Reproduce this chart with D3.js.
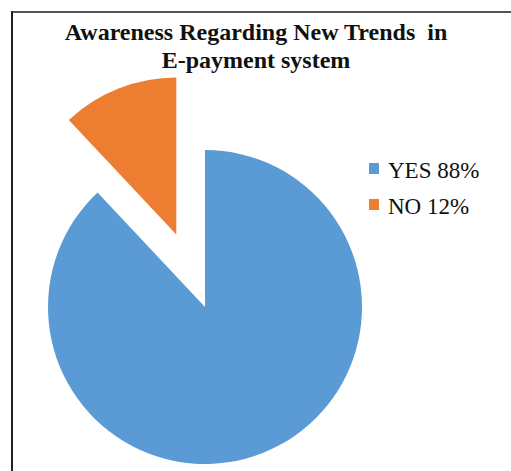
<!DOCTYPE html>
<html>
<head>
<meta charset="utf-8">
<script src="https://cdn.jsdelivr.net/npm/d3@7"></script>
<style>
  html, body { margin: 0; padding: 0; background: #fff; }
  svg { display: block; }
  .serif { font-family: "Liberation Serif", "Times New Roman", serif; }
</style>
</head>
<body>
<svg id="chart" width="511" height="471"></svg>
<script>
// Survey answers and their shares (percent)
const categories = ["YES", "NO"];
const values = [88, 12];
const legendLabels = ["YES 88%", "NO 12%"];
const colors = ["#5B9BD5", "#ED7D31"];
const titleLines = ["Awareness Regarding New Trends  in", "E-payment system"];

const svg = d3.select("#chart");
const W = 511, H = 471;

// Frame lines (top and left edges of the chart box)
svg.append("line").attr("x1", 12).attr("y1", 12).attr("x2", W).attr("y2", 12)
  .attr("stroke", "#555").attr("stroke-width", 2);
svg.append("line").attr("x1", 12).attr("y1", 11).attr("x2", 12).attr("y2", H)
  .attr("stroke", "#222").attr("stroke-width", 2);

// Title
const title = svg.append("text")
  .attr("class", "serif")
  .attr("text-anchor", "middle")
  .style("font-weight", "bold")
  .style("font-size", "24px")
  .attr("fill", "#111")
  .style("white-space", "pre");
titleLines.forEach((t, i) => {
  title.append("tspan").attr("x", 256).attr("y", 40 + i * 28).text(t);
});

// Pie, with the NO slice pulled out along its bisector
const cx = 205, cy = 307, r = 157, explode = 78;
const pie = d3.pie().sort(null).value(d => d.value).startAngle(0).endAngle(2 * Math.PI);
const arc = d3.arc().innerRadius(0).outerRadius(r);
const data = categories.map((c, i) => ({ name: c, value: values[i], color: colors[i] }));

const g = svg.append("g").attr("transform", `translate(${cx},${cy})`);
g.selectAll("path")
  .data(pie(data))
  .join("path")
  .attr("d", arc)
  .attr("fill", d => d.data.color)
  .attr("transform", d => {
    if (d.data.name !== "NO") return null;
    const mid = (d.startAngle + d.endAngle) / 2;
    return `translate(${Math.sin(mid) * explode},${-Math.cos(mid) * explode})`;
  });

// Legend
const legend = svg.append("g");
const items = legend.selectAll("g")
  .data(data)
  .join("g")
  .attr("transform", (d, i) => `translate(369,${163 + i * 36})`);
items.append("rect")
  .attr("width", 10).attr("height", 11)
  .attr("fill", d => d.color);
items.append("text")
  .attr("class", "serif")
  .attr("x", 19).attr("y", 15)
  .style("font-size", "23px")
  .attr("fill", "#111")
  .text((d, i) => legendLabels[i]);
</script>
</body>
</html>
